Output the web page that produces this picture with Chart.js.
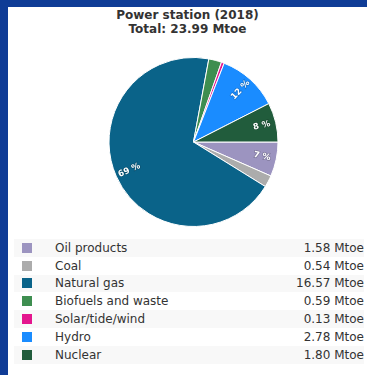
<!DOCTYPE html>
<html lang="en">
<head>
    <meta charset="UTF-8">
    <title>Power station (2018)</title>
    <script src="https://cdn.jsdelivr.net/npm/chart.js"></script>
    <style>
        html, body { margin: 0; padding: 0; }
        body {
            width: 367px;
            height: 375px;
            background: #0f3c96;
            position: relative;
            overflow: hidden;
            font-family: "DejaVu Sans", Verdana, sans-serif;
        }
        .panel {
            position: absolute;
            left: 8px;
            top: 7px;
            width: 359px;
            height: 368px;
            background: #ffffff;
        }
        .title {
            position: absolute;
            left: 0;
            top: 1px;
            width: 359px;
            text-align: center;
            font-weight: bold;
            font-size: 12px;
            line-height: 14px;
            color: #333;
        }
        .chart-box {
            position: absolute;
            left: 0;
            top: 49px;
            width: 359px;
            height: 172px;
        }
        table.legend {
            position: absolute;
            left: 6px;
            top: 232px;
            width: 350px;
            border-collapse: collapse;
            font-size: 12px;
            color: #333;
        }
        table.legend td { height: 17.8px; padding: 0; }
        table.legend tr:nth-child(odd) { background: #f8f8f8; }
        .swatch { display: inline-block; width: 10px; height: 10px; margin-left: 8px; vertical-align: -1px; }
        td.name { padding-left: 21px !important; }
        td.val { text-align: right; }
    </style>
</head>
<body>

    <div class="panel">
        <div class="title" id="title"></div>
        <div class="chart-box"><canvas id="powerChart"></canvas></div>
        <table class="legend" id="legend"></table>
    </div>

    <script>
        const sources = ["Oil products", "Coal", "Natural gas", "Biofuels and waste", "Solar/tide/wind", "Hydro", "Nuclear"];
        const mtoe = [1.58, 0.54, 16.57, 0.59, 0.13, 2.78, 1.80];
        const sliceColors = ["#9c94c0", "#acacac", "#0a6389", "#3e8e50", "#e4168e", "#1a8cff", "#215c3c"];

        const total = mtoe.reduce((a, b) => a + b, 0);
        document.getElementById("title").innerHTML =
            "Power station (2018)<br>Total: " + total.toFixed(2) + " Mtoe";

        // legend table under the pie
        const legend = document.getElementById("legend");
        sources.forEach((name, i) => {
            const tr = document.createElement("tr");
            tr.innerHTML =
                `<td style="width:20px"><span class="swatch" style="background:${sliceColors[i]}"></span></td>` +
                `<td class="name">${name}</td>` +
                `<td class="val">${mtoe[i].toFixed(2)} Mtoe</td>`;
            legend.appendChild(tr);
        });

        // percentage labels written along the radius of the bigger slices
        const sliceLabels = {
            id: "sliceLabels",
            afterDatasetsDraw(chart) {
                const ctx = chart.ctx;
                const meta = chart.getDatasetMeta(0);
                meta.data.forEach((arc, i) => {
                    const pct = mtoe[i] / total * 100;
                    if (pct < 5) return;
                    const p = arc.getProps(["x", "y", "startAngle", "endAngle", "outerRadius"], true);
                    const mid = (p.startAngle + p.endAngle) / 2;
                    const r = p.outerRadius * 0.83;
                    let rot = mid;
                    if (Math.cos(mid) < 0) rot += Math.PI;
                    ctx.save();
                    ctx.translate(p.x + Math.cos(mid) * r, p.y + Math.sin(mid) * r);
                    ctx.rotate(rot);
                    ctx.font = "bold 8.5px 'DejaVu Sans'";
                    ctx.textAlign = "center";
                    ctx.textBaseline = "middle";
                    ctx.lineWidth = 1.5;
                    ctx.strokeStyle = "rgba(0,0,0,0.2)";
                    ctx.strokeText(Math.round(pct) + " %", 0, 0);
                    ctx.fillStyle = "#ffffff";
                    ctx.fillText(Math.round(pct) + " %", 0, 0);
                    ctx.restore();
                });
            }
        };

        new Chart(document.getElementById("powerChart"), {
            type: "pie",
            data: {
                labels: sources,
                datasets: [{
                    data: mtoe,
                    backgroundColor: sliceColors,
                    borderColor: "#ffffff",
                    borderWidth: 1
                }]
            },
            options: {
                responsive: true,
                maintainAspectRatio: false,
                animation: false,
                rotation: 90,
                layout: { padding: { left: 12, right: 0, top: 1, bottom: 1 } },
                plugins: {
                    legend: { display: false },
                    tooltip: { enabled: false }
                }
            },
            plugins: [sliceLabels]
        });
    </script>

</body>
</html>
